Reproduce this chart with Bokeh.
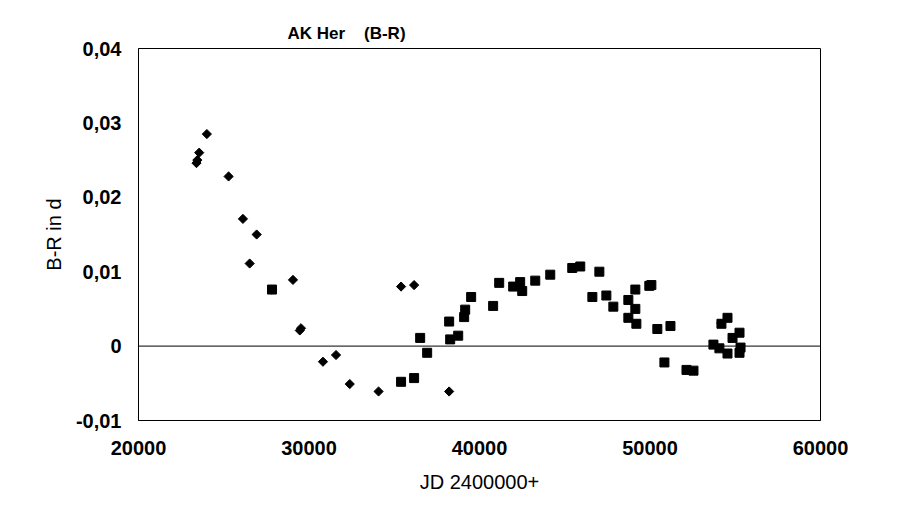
import numpy as np
from bokeh.plotting import figure
from bokeh.models import FixedTicker, CustomJSTickFormatter, Span, ColumnDataSource
from bokeh.embed import file_html
from bokeh.resources import INLINE

# ---- data ----
diamond_jd = [23400, 23450, 23560, 24010, 25285, 26125, 26930, 26520, 27830, 29060,
              29460, 29530, 30820, 31585, 32390, 34080, 35400, 36165, 38220]
diamond_br = [0.0246, 0.0250, 0.0260, 0.0285, 0.0228, 0.0171, 0.0150, 0.0111, 0.0076, 0.0089,
              0.0021, 0.0024, -0.0021, -0.0012, -0.0051, -0.0061, 0.0080, 0.0082, -0.0061]

square_jd = [27830, 35400, 36165, 36520, 36930, 38220, 38280, 38750, 39100, 39160,
             39510, 40800, 41155, 41975, 42385, 42505, 43270, 44150, 45440, 45910,
             46620, 47030, 47440, 47850, 48730, 49140, 49140, 48730, 49200, 49960,
             50080, 50430, 51200, 50845, 52140, 52550, 53720, 54070, 54190, 54545,
             54545, 54840, 55250, 55310, 55250]
square_br = [0.0076, -0.0048, -0.0043, 0.0011, -0.0009, 0.0033, 0.0009, 0.0014, 0.0039, 0.0049,
             0.0066, 0.0054, 0.0085, 0.0080, 0.0086, 0.0074, 0.0088, 0.0096, 0.0105, 0.0107,
             0.0066, 0.0100, 0.0068, 0.0053, 0.0062, 0.0076, 0.0050, 0.0038, 0.0030, 0.0081,
             0.0082, 0.0023, 0.0027, -0.0022, -0.0032, -0.0033, 0.0002, -0.0003, 0.0030, 0.0038,
             -0.0010, 0.0011, 0.0018, -0.0002, -0.0009]

cross_jd = [54120]
cross_br = [0.0031]

x_ticks = [20000, 30000, 40000, 50000, 60000]
x_tick_labels = ["20000", "30000", "40000", "50000", "60000"]
y_ticks = [-0.01, 0.0, 0.01, 0.02, 0.03, 0.04]
y_tick_labels = ["-0,01", "0", "0,01", "0,02", "0,03", "0,04"]

title_text = "AK Her\u00a0\u00a0\u00a0\u00a0(B-R)"
x_label = "JD 2400000+"
y_label = "B-R in d"

# ---- figure ----
p = figure(frame_width=682, frame_height=372,
           x_range=(20000, 60000), y_range=(-0.01, 0.04),
           output_backend="svg", toolbar_location=None,
           min_border_left=138, min_border_right=69,
           min_border_top=48, min_border_bottom=90,
           background_fill_color="white", border_fill_color="white")

p.title.text = title_text
p.title.text_font = "Liberation Sans"
p.title.text_font_style = "bold"
p.title.text_font_size = "17px"
p.title.text_color = "black"
p.title.align = "left"
p.title.offset = 149
p.title.standoff = 12

p.outline_line_color = "black"
p.outline_line_width = 1
p.xgrid.visible = False
p.ygrid.visible = False

fmt_code = """
let best = -1, bd = 1e99;
for (let i = 0; i < tv.length; i++) {
  const d = Math.abs(tv[i] - tick);
  if (d < bd) { bd = d; best = i; }
}
return (best >= 0 && bd < 1e-9 * Math.max(1, Math.abs(tick)) + 1e-9) ? tl[best] : "";
"""

p.xaxis.ticker = FixedTicker(ticks=x_ticks)
p.xaxis.formatter = CustomJSTickFormatter(args=dict(tv=x_ticks, tl=x_tick_labels), code=fmt_code)
p.yaxis.ticker = FixedTicker(ticks=y_ticks)
p.yaxis.formatter = CustomJSTickFormatter(args=dict(tv=y_ticks, tl=y_tick_labels), code=fmt_code)

for ax in (p.xaxis, p.yaxis):
    ax.major_tick_line_color = None
    ax.minor_tick_line_color = None
    ax.axis_line_color = "black"
    ax.major_label_text_font = "Liberation Sans"
    ax.major_label_text_font_style = "bold"
    ax.major_label_text_font_size = "20px"
    ax.major_label_text_color = "black"
    ax.axis_label_text_font = "Liberation Sans"
    ax.axis_label_text_font_style = "normal"
    ax.axis_label_text_font_size = "20px"
    ax.axis_label_text_color = "black"

p.xaxis.axis_label = x_label
p.yaxis.axis_label = y_label
p.xaxis.major_label_standoff = 14
p.yaxis.major_label_standoff = 11
p.xaxis.axis_label_standoff = 13
p.yaxis.axis_label_standoff = 8

p.add_layout(Span(location=0, dimension="width", line_color="black", line_width=1))

src_d = ColumnDataSource(dict(x=diamond_jd, y=diamond_br))
src_s = ColumnDataSource(dict(x=square_jd, y=square_br))
src_c = ColumnDataSource(dict(x=cross_jd, y=cross_br))

p.scatter("x", "y", source=src_s, marker="square", size=9,
          fill_color="black", line_color="black")
p.scatter("x", "y", source=src_d, marker="square", angle=np.pi / 4, size=6.5,
          fill_color="black", line_color="black")
p.scatter("x", "y", source=src_c, marker="cross", size=8,
          line_color="black", line_width=1)

open("out.html", "w").write(file_html(p, INLINE))
